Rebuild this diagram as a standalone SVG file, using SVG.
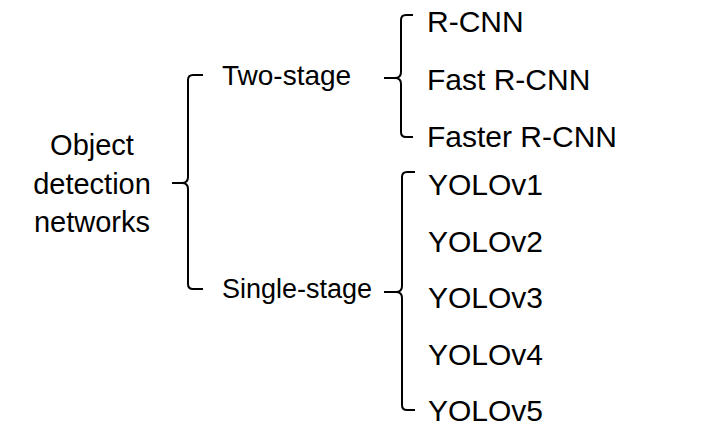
<svg xmlns="http://www.w3.org/2000/svg" width="727" height="436" viewBox="0 0 727 436">
<style>
text{font-family:"Liberation Sans",Arial,sans-serif;font-size:28px;fill:#000}
.r{font-size:30px}
.b{fill:none;stroke:#000;stroke-width:2;stroke-linejoin:round}
</style>
<rect width="727" height="436" fill="#fff"/>
<g id="connectors">
<path class="b" d="M203,75 H193 Q188,75 188,80 V177 Q188,183 182,183 H172 M182,183 Q188,183 188,189 V284 Q188,289 193,289 H203"/>
<path class="b" d="M413,15 H406 Q401,15 401,20 V72 Q401,78 395,78 H384 M395,78 Q401,78 401,84 V132 Q401,137 406,137 H413"/>
<path class="b" d="M415,172 H407 Q402,172 402,177 V286 Q402,292 396,292 H384 M396,292 Q402,292 402,298 V405 Q402,410 407,410 H415"/>
</g>
<g id="root"><text x="92" text-anchor="middle" style="font-size:29px"><tspan x="92" y="155">Object</tspan><tspan x="92" y="194">detection</tspan><tspan x="92" y="232">networks</tspan></text></g>
<g id="two-stage"><text x="222" y="85">Two-stage</text></g>
<g id="single-stage"><text x="222" y="298" style="font-size:27px">Single-stage</text></g>
<g id="rcnn"><text class="r" x="427" y="32">R-CNN</text></g>
<g id="fast-rcnn"><text class="r" x="427" y="90">Fast R-CNN</text></g>
<g id="faster-rcnn"><text class="r" x="427" y="147">Faster R-CNN</text></g>
<g id="yolov1"><text class="r" x="428" y="195">YOLOv1</text></g>
<g id="yolov2"><text class="r" x="428" y="252">YOLOv2</text></g>
<g id="yolov3"><text class="r" x="428" y="308">YOLOv3</text></g>
<g id="yolov4"><text class="r" x="428" y="365">YOLOv4</text></g>
<g id="yolov5"><text class="r" x="428" y="421">YOLOv5</text></g>
</svg>
